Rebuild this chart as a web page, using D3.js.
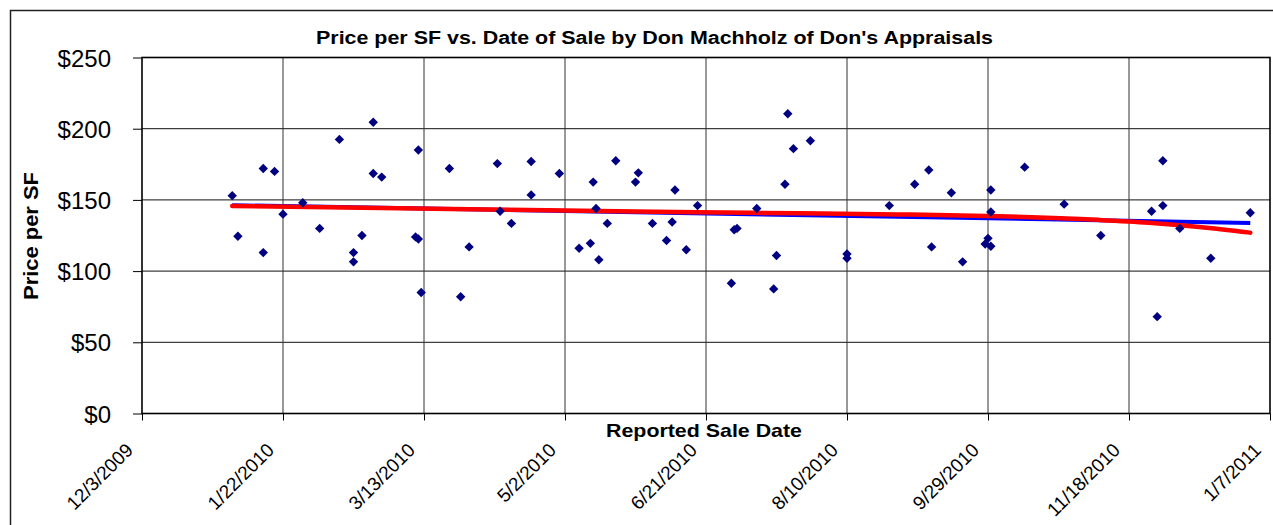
<!DOCTYPE html>
<html>
<head>
<meta charset="utf-8">
<script src="https://cdn.jsdelivr.net/npm/d3@7"></script>
<style>
  body { margin: 0; background: #fff; }
  text { font-family: "Liberation Sans", Arial, sans-serif; fill: #000; }
</style>
</head>
<body>
<svg id="chart" width="1273" height="525"></svg>
<script>
// Data

var saleDates = [
  "1/4/2010", "1/6/2010", "1/15/2010", "1/15/2010", "1/19/2010", "1/22/2010", "1/29/2010",
  "2/4/2010", "2/11/2010", "2/16/2010", "2/16/2010", "2/19/2010", "2/23/2010", "2/23/2010",
  "2/26/2010", "3/11/2010", "3/10/2010", "3/11/2010", "3/12/2010", "3/22/2010", "3/26/2010",
  "3/29/2010", "4/8/2010", "4/9/2010", "4/13/2010", "4/20/2010", "4/20/2010", "4/30/2010",
  "5/7/2010", "5/11/2010", "5/12/2010", "5/13/2010", "5/14/2010", "5/17/2010", "5/20/2010",
  "5/27/2010", "5/28/2010", "6/2/2010", "6/7/2010", "6/9/2010", "6/10/2010", "6/14/2010",
  "6/18/2010", "6/30/2010", "7/1/2010", "7/2/2010", "7/9/2010", "7/16/2010", "7/15/2010",
  "7/19/2010", "7/20/2010", "7/22/2010", "7/28/2010", "8/10/2010", "8/10/2010", "8/25/2010",
  "9/3/2010", "9/8/2010", "9/9/2010", "9/16/2010", "9/20/2010", "9/30/2010", "9/30/2010",
  "9/29/2010", "9/28/2010", "9/30/2010", "10/12/2010", "10/26/2010", "11/8/2010", "11/26/2010",
  "11/28/2010", "11/30/2010", "11/30/2010", "12/6/2010", "12/17/2010", "12/31/2010"
];

var pricePerSF = [
  153, 124.5, 172, 113, 170, 140, 148,
  130, 192.5, 113, 106.5, 125, 204.5, 168.5,
  166, 185, 124, 122.5, 85, 172, 82,
  117, 175.5, 142, 133.5, 177, 153.5, 168.5,
  116, 119.5, 162.5, 144, 108, 133.5, 177.5,
  162.5, 169, 133.5, 121.5, 134.5, 157, 115,
  146, 91.5, 129, 130, 144, 111, 87.5,
  161, 210.5, 186, 191.5, 112, 109, 146,
  161, 171, 117, 155, 106.5, 157, 141.5,
  123, 119, 117.5, 173, 147, 125, 142,
  68, 177.5, 146, 130, 109, 141
];

// Red polynomial trend, read at a few dates along the curve
var polyDates = ["1/4/2010", "3/4/2010", "4/12/2010", "5/14/2010", "6/18/2010", "7/24/2010",
                 "8/28/2010", "10/3/2010", "11/7/2010", "11/25/2010", "12/13/2010", "12/31/2010"];
var polyValues = [145.7, 144.2, 143, 142.2, 141.3, 140.6, 139.8, 138.5, 136, 134, 131, 127];

var xTickLabels = ["12/3/2009", "1/22/2010", "3/13/2010", "5/2/2010", "6/21/2010",
                   "8/10/2010", "9/29/2010", "11/18/2010", "1/7/2011"];
var yTickValues = [0, 50, 100, 150, 200, 250];

var chartTitle = "Price per SF vs. Date of Sale by Don Machholz of Don's Appraisals";
var xTitle = "Reported Sale Date";
var yTitle = "Price per SF";

// Setup

var margin = {top: 57.5, right: 3, bottom: 111.5, left: 142};
var width = 1273 - margin.left - margin.right;
var height = 525 - margin.top - margin.bottom;

var parseDate = d3.timeParse("%m/%d/%Y");

var root = d3.select("#chart");

// outer chart border
root.append("rect")
  .attr("x", 10.5).attr("y", 10.5)
  .attr("width", 1400).attr("height", 700)
  .attr("fill", "none")
  .attr("stroke", "#222")
  .attr("stroke-width", 1.5);

var svg = root.append("g")
  .attr("transform", "translate(" + margin.left + "," + margin.top + ")");

var xscale = d3.scaleTime()
  .domain([parseDate(xTickLabels[0]), parseDate(xTickLabels[xTickLabels.length - 1])])
  .range([0, width]);
var yscale = d3.scaleLinear().domain([0, 250]).range([height, 0]);

var points = saleDates.map(function(d, i) {
  return {date: parseDate(d), value: pricePerSF[i]};
});

// Gridlines
svg.append("g")
  .selectAll("line")
  .data(yTickValues.slice(1, -1))
  .enter().append("line")
  .attr("x1", 0).attr("x2", width)
  .attr("y1", function(d) { return yscale(d); })
  .attr("y2", function(d) { return yscale(d); })
  .attr("stroke", "#111")
  .attr("stroke-width", 1);

svg.append("g")
  .selectAll("line")
  .data(xTickLabels.slice(1, -1))
  .enter().append("line")
  .attr("x1", function(d) { return xscale(parseDate(d)); })
  .attr("x2", function(d) { return xscale(parseDate(d)); })
  .attr("y1", 0).attr("y2", height)
  .attr("stroke", "#333")
  .attr("stroke-width", 1);

// Axes
var yAxis = svg.append("g")
  .call(d3.axisLeft(yscale)
    .tickValues(yTickValues)
    .tickSize(9)
    .tickPadding(22)
    .tickFormat(function(d) { return "$" + d; }));
yAxis.select(".domain").remove();
yAxis.selectAll("line").attr("stroke", "#000");
yAxis.selectAll("text")
  .attr("dy", "0.36em")
  .style("font-size", "24px")
  .style("font-family", "'Liberation Sans', Arial, sans-serif");

var xAxis = svg.append("g")
  .attr("transform", "translate(0," + height + ")")
  .call(d3.axisBottom(xscale)
    .tickValues(xTickLabels.map(parseDate))
    .tickSize(7)
    .tickFormat(function(d, i) { return xTickLabels[i]; }));
xAxis.select(".domain").remove();
xAxis.selectAll("line").attr("stroke", "#000");
// rotate each label around its own anchor point
xAxis.selectAll(".tick text")
  .attr("text-anchor", "end")
  .attr("x", 0).attr("y", 0)
  .attr("dy", "0.35em")
  .attr("transform", "translate(-13,33) rotate(-45)")
  .style("font-size", "19px")
  .style("font-family", "'Liberation Sans', Arial, sans-serif");

// plot border
svg.append("rect")
  .attr("width", width).attr("height", height)
  .attr("fill", "none")
  .attr("stroke", "#000")
  .attr("stroke-width", 1.6);

// Linear trend (least squares on the points)
var xs = points.map(function(d) { return +d.date; });
var ys = points.map(function(d) { return d.value; });
var mx = d3.mean(xs), my = d3.mean(ys);
var sxy = d3.sum(xs, function(v, i) { return (v - mx) * (ys[i] - my); });
var sxx = d3.sum(xs, function(v) { return (v - mx) * (v - mx); });
var slope = sxy / sxx;
var icpt = my - slope * mx;
var xExt = d3.extent(xs);

svg.append("path")
  .datum(xExt)
  .attr("fill", "none")
  .attr("stroke", "#0000ff")
  .attr("stroke-width", 4)
  .attr("d", d3.line()
    .x(function(d) { return xscale(new Date(d)); })
    .y(function(d) { return yscale(icpt + slope * d); }));

// Polynomial trend
var polyData = polyDates.map(function(d, i) { return {date: parseDate(d), value: polyValues[i]}; });
svg.append("path")
  .datum(polyData)
  .attr("fill", "none")
  .attr("stroke", "#ff0000")
  .attr("stroke-width", 4.5)
  .attr("stroke-linecap", "round")
  .attr("d", d3.line()
    .curve(d3.curveMonotoneX)
    .x(function(d) { return xscale(d.date); })
    .y(function(d) { return yscale(d.value); }));

// Points (diamonds)
svg.append("g")
  .selectAll("path")
  .data(points)
  .enter().append("path")
  .attr("transform", function(d) { return "translate(" + xscale(d.date) + "," + yscale(d.value) + ")"; })
  .attr("d", "M0,-4.7L4.7,0L0,4.7L-4.7,0Z")
  .attr("fill", "#000080");

// Titles
root.append("text")
  .attr("x", 654.5).attr("y", 44)
  .attr("text-anchor", "middle")
  .attr("textLength", 677)
  .attr("lengthAdjust", "spacingAndGlyphs")
  .style("font-size", "18px")
  .style("font-weight", "bold")
  .text(chartTitle);

root.append("text")
  .attr("x", 704).attr("y", 437)
  .attr("text-anchor", "middle")
  .attr("textLength", 196)
  .attr("lengthAdjust", "spacingAndGlyphs")
  .style("font-size", "19px")
  .style("font-weight", "bold")
  .text(xTitle);

root.append("text")
  .attr("transform", "translate(38,236) rotate(-90)")
  .attr("text-anchor", "middle")
  .attr("textLength", 128)
  .attr("lengthAdjust", "spacingAndGlyphs")
  .style("font-size", "20px")
  .style("font-weight", "bold")
  .text(yTitle);
</script>
</body>
</html>
